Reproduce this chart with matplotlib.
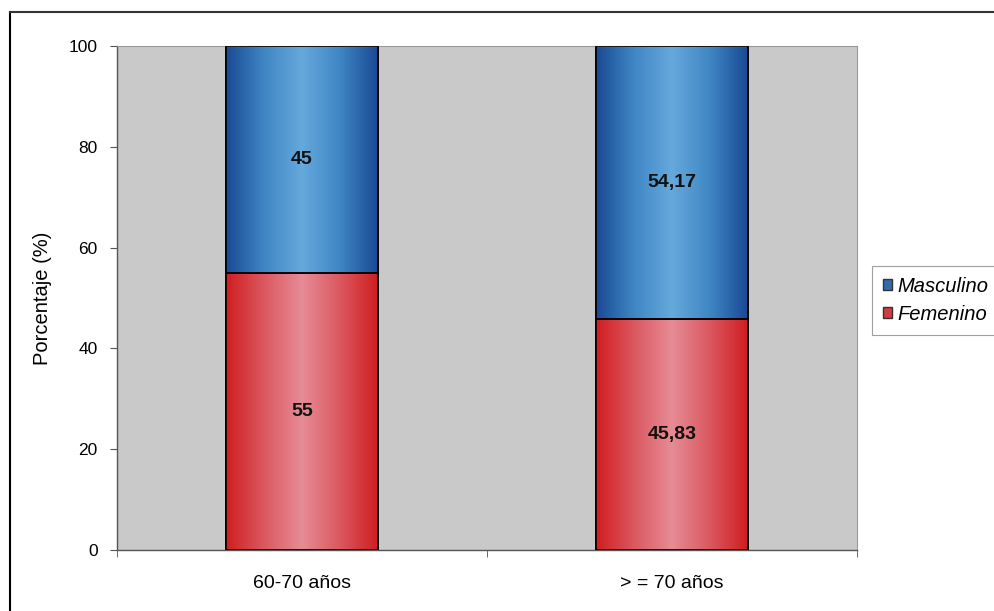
import numpy as np
import matplotlib.pyplot as plt
from matplotlib.colors import LinearSegmentedColormap
from matplotlib.patches import Patch
from matplotlib.lines import Line2D

plt.rcParams['font.family'] = ['Liberation Sans', 'DejaVu Sans']

grupos = ["60-70 años", "> = 70 años"]
femenino = [55, 45.83]
masculino = [45, 54.17]
etiquetas_fem = ["55", "45,83"]
etiquetas_masc = ["45", "54,17"]

azul = LinearSegmentedColormap.from_list("azul", ["#1a4a94", "#3f86c4", "#65a9dc", "#3f86c4", "#1a4a94"])
rojo = LinearSegmentedColormap.from_list("rojo", ["#d01e20", "#db5860", "#e68c96", "#db5860", "#d01e20"])

fig = plt.figure(figsize=(9.95, 6.11), dpi=100)
ax = fig.add_axes([0.1176, 0.0998, 0.7437, 0.8249])
ax.set_facecolor("#c9c9c9")

x = np.arange(len(grupos))
ancho = 0.41

barras_f = ax.bar(x, femenino, ancho, color="#d43a3e", edgecolor="black", linewidth=1.2, zorder=2)
barras_m = ax.bar(x, masculino, ancho, bottom=femenino, color="#2f6db0", edgecolor="black", linewidth=1.2, zorder=2)

# degradado horizontal dentro de cada barra
grad = np.linspace(0, 1, 256).reshape(1, -1)
for barras, cmap in [(barras_f, rojo), (barras_m, azul)]:
    for b in barras:
        x0, y0 = b.get_x(), b.get_y()
        w, h = b.get_width(), b.get_height()
        im = ax.imshow(grad, cmap=cmap, aspect="auto", extent=(x0, x0 + w, y0, y0 + h), zorder=2.5, interpolation="bicubic")
        im.set_clip_path(b)
        ax.add_patch(plt.Rectangle((x0, y0), w, h, fill=False, edgecolor="black", linewidth=1.2, zorder=3))

for i in range(len(grupos)):
    ax.text(x[i], femenino[i] / 2, etiquetas_fem[i], ha="center", va="center", fontsize=14, fontweight="bold", color="#111111", zorder=4)
    ax.text(x[i], femenino[i] + masculino[i] / 2, etiquetas_masc[i], ha="center", va="center", fontsize=14, fontweight="bold", color="#111111", zorder=4)

ax.set_xlim(-0.5, 1.5)
ax.set_ylim(0, 100)
ax.set_yticks(range(0, 101, 20))
ax.set_xticks(x)
ax.set_xticklabels(grupos)
ax.set_xticks([-0.5, 0.5, 1.5], minor=True)
ax.tick_params(axis="x", which="major", length=0, pad=18, labelsize=14)
ax.tick_params(axis="x", which="minor", length=5, direction="out", color="#555555")
ax.tick_params(axis="y", length=5, direction="out", labelsize=12.5, pad=9, color="#555555")
ax.set_ylabel("Porcentaje (%)", fontsize=14.5, labelpad=12)

for lado in ["top", "right"]:
    ax.spines[lado].set_color("#999999")
    ax.spines[lado].set_linewidth(0.8)
for lado in ["left", "bottom"]:
    ax.spines[lado].set_color("#555555")
    ax.spines[lado].set_linewidth(1.0)

# leyenda
manejadores = [Patch(facecolor="#2f6db0", edgecolor="#333333", label="Masculino"),
               Patch(facecolor="#d43a3e", edgecolor="#333333", label="Femenino")]
leg = fig.legend(handles=manejadores, loc="upper left", bbox_to_anchor=(0.876, 0.565),
                 prop={"style": "italic", "size": 14.5}, frameon=True, fancybox=False,
                 handlelength=0.45, handleheight=0.45, handletextpad=0.3, borderpad=0.55,
                 borderaxespad=0, labelspacing=0.45, edgecolor="#888888")
leg.get_frame().set_linewidth(0.8)

# marco exterior del gráfico
fig.add_artist(Line2D([0.0105, 0.0105], [0.0, 0.981], color="black", linewidth=1.5))
fig.add_artist(Line2D([0.0105, 1.0], [0.981, 0.981], color="#333333", linewidth=1.5))

fig.savefig("out.png", dpi=100)
